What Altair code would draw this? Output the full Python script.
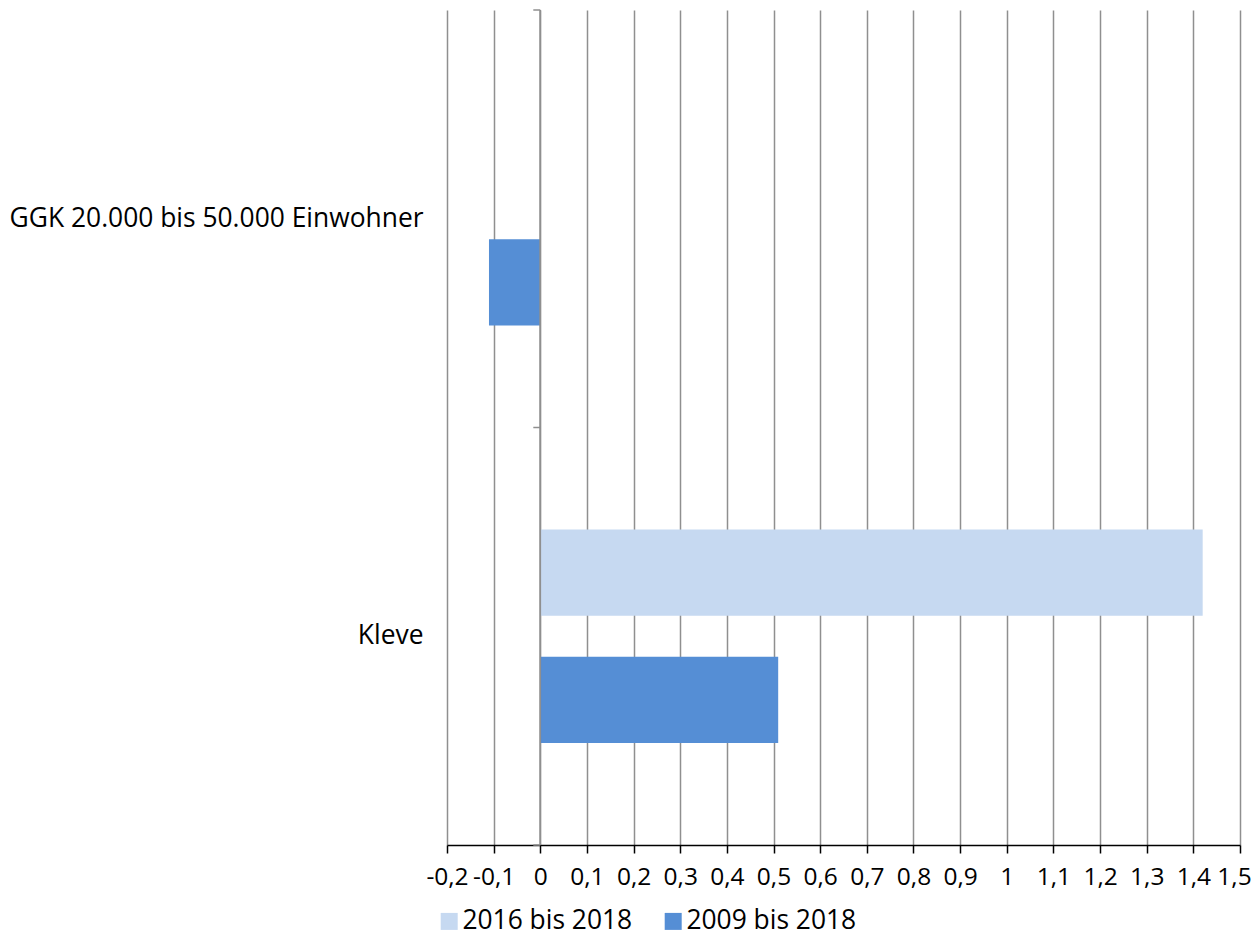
import altair as alt
import pandas as pd

categories = ["GGK 20.000 bis 50.000 Einwohner", "Kleve"]
series = ["2016 bis 2018", "2009 bis 2018"]
values_2016 = [0.0, 1.42]
values_2009 = [-0.11, 0.51]
x_ticks = [-0.2, -0.1, 0.0, 0.1, 0.2, 0.3, 0.4, 0.5, 0.6, 0.7, 0.8, 0.9, 1.0,
           1.1, 1.2, 1.3, 1.4, 1.5]
colors = ["#c6d9f1", "#558ed5"]

rows = []
for i, c in enumerate(categories):
    rows.append({"cat": c, "series": series[0], "value": values_2016[i]})
    rows.append({"cat": c, "series": series[1], "value": values_2009[i]})
df = pd.DataFrame(rows)
cat_df = pd.DataFrame({"cat": categories})
last_df = pd.DataFrame({"cat": categories[-1:]})

FONT = "Open Sans"
GRID = "#8f8f8f"
FS = 26.4
XFS = 24.5

xscale = alt.Scale(domain=[-0.2, 1.5], nice=False, zero=False)
yscale = alt.Scale(domain=categories, paddingInner=0, paddingOuter=0)

x_axis = alt.Axis(
    values=x_ticks, title=None, grid=True, gridColor=GRID, gridWidth=1.5,
    domainColor="#000000", domainWidth=1.5, tickColor="#000000", tickWidth=1.5,
    tickSize=8, labelFontSize=XFS, labelFont=FONT, labelColor="#000000",
    labelPadding=12, labelOverlap=False, labelFlush=False,
    labelOffset={"condition": {"test": "datum.value >= 1.45", "value": -6}, "value": 0},
    labelExpr="replace(replace(format(datum.value, '.1~f'), '.', ','), '\u2212', '-')",
)
y_axis = alt.Axis(
    title=None, ticks=False, domain=False, grid=False, labelFontSize=FS,
    labelFont=FONT, labelColor="#000000", labelPadding=24, labelLimit=600,
    labelOffset=0,
)

bars = alt.Chart(df).mark_bar().encode(
    x=alt.X("value:Q", scale=xscale, axis=x_axis),
    y=alt.Y("cat:N", scale=yscale, sort=categories, axis=y_axis),
    yOffset=alt.YOffset("series:N", sort=series,
                        scale=alt.Scale(domain=series, paddingInner=0.323, paddingOuter=0.803)),
    color=alt.Color("series:N", sort=series,
                    scale=alt.Scale(domain=series, range=colors),
                    legend=alt.Legend(
                        title=None, orient="none", direction="horizontal",
                        legendX=-11, legendY=898, symbolType="square", symbolSize=289,
                        symbolStrokeWidth=0, labelFontSize=FS, labelFont=FONT,
                        labelColor="#000000", columnPadding=27, labelOffset=0,
                        labelLimit=400)),
)

zero_line = alt.Chart(cat_df).mark_rule(color=GRID, strokeWidth=1.5).encode(
    x=alt.datum(0),
)

ticks_top = alt.Chart(cat_df).mark_rule(color=GRID, strokeWidth=1.5, xOffset=-7).encode(
    x=alt.datum(0), x2=alt.datum(0),
    y=alt.Y("cat:N", scale=yscale, sort=categories, axis=y_axis, bandPosition=0),
)
ticks_bottom = alt.Chart(last_df).mark_rule(color=GRID, strokeWidth=1.5, xOffset=-7).encode(
    x=alt.datum(0), x2=alt.datum(0),
    y=alt.Y("cat:N", scale=yscale, sort=categories, axis=y_axis, bandPosition=1),
)

chart = alt.layer(bars, zero_line, ticks_top, ticks_bottom).properties(
    width=793, height=835,
    autosize=alt.AutoSizeParams(type="none"),
    padding={"left": 439, "top": 2, "right": 11, "bottom": 91},
    background="#ffffff",
).configure_view(stroke=None)

chart.save("out.html", embed_options={"renderer": "svg", "actions": False})
